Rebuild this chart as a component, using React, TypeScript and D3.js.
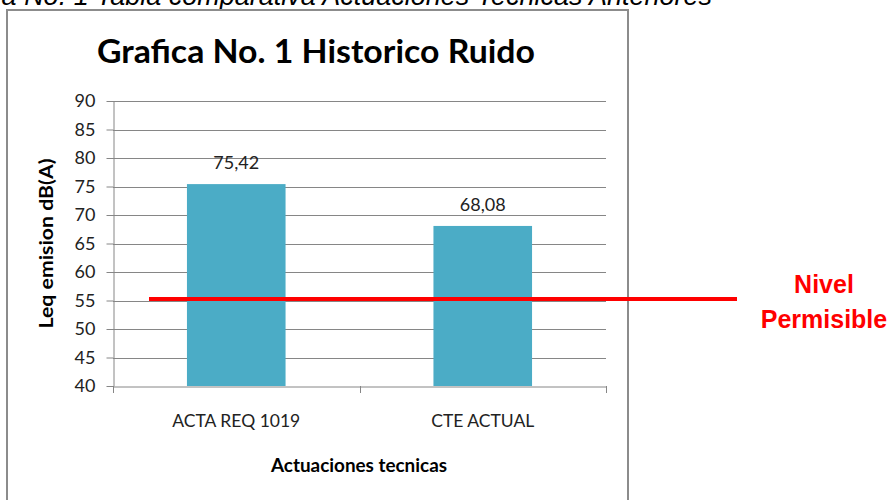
import React, { useEffect, useRef } from 'react';
import * as d3 from 'd3';

const categories = ['ACTA REQ 1019', 'CTE ACTUAL'];
const values = [75.42, 68.08];
const valueLabels = ['75,42', '68,08'];
const yTicks = [40, 45, 50, 55, 60, 65, 70, 75, 80, 85, 90];
const limitValue = 55;
const limitLabel = ['Nivel', 'Permisible'];

const title = 'Grafica No. 1 Historico Ruido';
const yTitle = 'Leq emision dB(A)';
const xTitle = 'Actuaciones tecnicas';
const caption = 'Tabla No. 1 Tabla comparativa Actuaciones Tecnicas Anteriores';

const FONT = 'Lato, "DejaVu Sans", sans-serif';

function App() {
  const ref = useRef<SVGSVGElement>(null);

  useEffect(() => {
    const svg = d3.select(ref.current);
    svg.selectAll('*').remove();
    const width = 894;
    const height = 500;
    const margin = { top: 101, right: 288, bottom: 114, left: 113 };

    const x = d3
      .scaleBand()
      .domain(categories)
      .range([margin.left, width - margin.right])
      .paddingInner(0.6)
      .paddingOuter(0.3);

    const y = d3
      .scaleLinear()
      .domain([40, 90])
      .range([height - margin.bottom, margin.top]);

    const axisColor = '#868686';

    // caption, cut off at the top edge as in the source page
    svg
      .append('text')
      .attr('x', 712)
      .attr('y', 5)
      .attr('text-anchor', 'end')
      .attr('font-family', '"Liberation Sans", Arial, sans-serif')
      .attr('font-style', 'italic')
      .attr('font-size', 27)
      .attr('fill', '#000')
      .text(caption);

    // chart frame
    svg
      .append('rect')
      .attr('x', 7)
      .attr('y', 10)
      .attr('width', 621)
      .attr('height', 520)
      .attr('fill', '#fff')
      .attr('stroke', '#8c8c8c')
      .attr('stroke-width', 2);

    svg
      .append('text')
      .attr('x', 316)
      .attr('y', 63)
      .attr('text-anchor', 'middle')
      .attr('font-family', FONT)
      .attr('font-weight', 'bold')
      .attr('font-size', 32)
      .attr('textLength', 438)
      .attr('lengthAdjust', 'spacingAndGlyphs')
      .attr('fill', '#000')
      .text(title);

    // gridlines
    svg
      .append('g')
      .selectAll('line')
      .data(yTicks.slice(1))
      .join('line')
      .attr('x1', margin.left)
      .attr('x2', width - margin.right)
      .attr('y1', d => Math.round(y(d)) + 0.5)
      .attr('y2', d => Math.round(y(d)) + 0.5)
      .attr('stroke', axisColor)
      .attr('stroke-width', 1);

    // y axis
    const yAxis = svg
      .append('g')
      .attr('transform', `translate(${margin.left + 0.5},0)`)
      .call(d3.axisLeft(y).tickValues(yTicks).tickSize(7).tickSizeOuter(0).tickPadding(11));
    yAxis.select('.domain').attr('stroke', axisColor);
    yAxis.selectAll('.tick line').attr('stroke', axisColor);
    yAxis
      .selectAll('.tick text')
      .attr('font-family', FONT)
      .attr('font-size', 18)
      .attr('fill', '#222');

    // bars
    svg
      .append('g')
      .selectAll('rect')
      .data(values)
      .join('rect')
      .attr('x', (d, i) => x(categories[i]) as number)
      .attr('width', x.bandwidth())
      .attr('y', d => y(d))
      .attr('height', d => y(40) - y(d))
      .attr('fill', '#4bacc6');

    svg
      .append('g')
      .selectAll('text')
      .data(values)
      .join('text')
      .attr('x', (d, i) => (x(categories[i]) as number) + x.bandwidth() / 2)
      .attr('y', d => y(d) - 15)
      .attr('text-anchor', 'middle')
      .attr('font-family', FONT)
      .attr('font-size', 18)
      .attr('fill', '#222')
      .text((d, i) => valueLabels[i]);

    // x axis
    const xAxis = svg
      .append('g')
      .attr('transform', `translate(0,${y(40) + 0.5})`)
      .call(d3.axisBottom(x).tickSize(0).tickPadding(28));
    xAxis.select('.domain').attr('stroke', axisColor);
    xAxis
      .selectAll('.tick text')
      .attr('font-family', FONT)
      .attr('font-size', 17.5)
      .attr('fill', '#222');

    const step = x.step();
    const bounds = d3.range(categories.length + 1).map(i => margin.left + i * step);
    svg
      .append('g')
      .selectAll('line')
      .data(bounds)
      .join('line')
      .attr('x1', d => Math.round(d) + 0.5)
      .attr('x2', d => Math.round(d) + 0.5)
      .attr('y1', y(40))
      .attr('y2', y(40) + 7)
      .attr('stroke', axisColor);

    // axis titles
    svg
      .append('text')
      .attr('transform', `translate(53,${(y(40) + y(90)) / 2}) rotate(-90)`)
      .attr('text-anchor', 'middle')
      .attr('font-family', FONT)
      .attr('font-weight', 'bold')
      .attr('font-size', 19)
      .attr('textLength', 170)
      .attr('lengthAdjust', 'spacingAndGlyphs')
      .attr('fill', '#000')
      .text(yTitle);

    svg
      .append('text')
      .attr('x', 359)
      .attr('y', 472)
      .attr('text-anchor', 'middle')
      .attr('font-family', FONT)
      .attr('font-weight', 'bold')
      .attr('font-size', 19)
      .attr('textLength', 176)
      .attr('lengthAdjust', 'spacingAndGlyphs')
      .attr('fill', '#000')
      .text(xTitle);

    // permissible level line
    svg
      .append('line')
      .attr('x1', 149)
      .attr('x2', 737)
      .attr('y1', y(limitValue) - 1.5)
      .attr('y2', y(limitValue) - 1.5)
      .attr('stroke', '#ff0000')
      .attr('stroke-width', 4);

    svg
      .append('g')
      .selectAll('text')
      .data(limitLabel)
      .join('text')
      .attr('x', 824)
      .attr('y', (d, i) => 293 + i * 35)
      .attr('text-anchor', 'middle')
      .attr('font-family', '"Liberation Sans", Arial, sans-serif')
      .attr('font-weight', 'bold')
      .attr('font-size', 25)
      .attr('fill', '#ff0000')
      .text(d => d);
  }, []);

  return (
    <svg
      ref={ref}
      width={894}
      height={500}
      style={{ position: 'absolute', left: 0, top: 0, background: '#fff' }}
    />
  );
}

export default App;
